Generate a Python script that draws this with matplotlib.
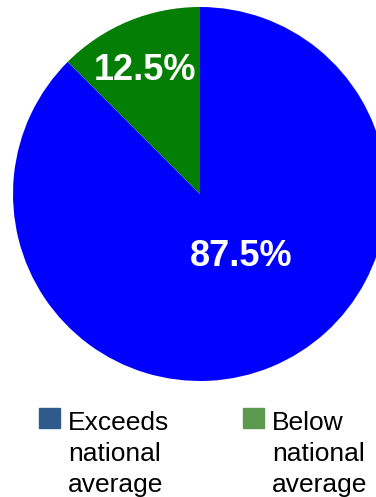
import matplotlib

matplotlib.use("Agg")
import matplotlib.pyplot as plt
from matplotlib.patches import Rectangle

plt.rcParams["font.family"] = ["Liberation Sans", "DejaVu Sans"]

# data
categories = ["Exceeds\nnational\naverage", "Below\nnational\naverage"]
shares = [87.5, 12.5]
pie_colours = ["#0000ff", "#047e04"]
legend_colours = ["#2f5b8c", "#5b994e"]

W, H = 376, 497
fig = plt.figure(figsize=(W / 100, H / 100), dpi=100)
ax = fig.add_axes([0, 0, 1, 1])

# work in pixel-like data units so the pie can run off the right edge
cx, cy, r = 200, H - 194, 187
wedges, _, pct = ax.pie(
    shares,
    colors=pie_colours,
    startangle=90,
    counterclock=False,
    center=(cx, cy),
    radius=r,
    autopct="%.1f%%",
    textprops=dict(color="white", fontsize=26, fontweight="bold"),
)
ax.set_xlim(0, W)
ax.set_ylim(0, H)
ax.set_aspect("equal")
ax.axis("off")

# label offsets from the pie centre (px)
label_offsets = [(41, -63), (-55, 124)]
for t, (dx, dy) in zip(pct, label_offsets):
    t.set_position((cx + dx, cy + dy))
    t.set_ha("center")
    t.set_va("center")

# legend drawn by hand: square beside the first line of a 3-line label
legend_x = [39, 243]
for x0, lab, col in zip(legend_x, categories, legend_colours):
    fig.add_artist(Rectangle((x0 / W, 1 - 428 / H), 21 / W, 20 / H,
                             transform=fig.transFigure, color=col))
    fig.text((x0 + 29) / W, 1 - 411 / H, lab, ha="left", va="top",
             fontsize=19, linespacing=1.36, color="black")

fig.savefig("out.png", dpi=100)
